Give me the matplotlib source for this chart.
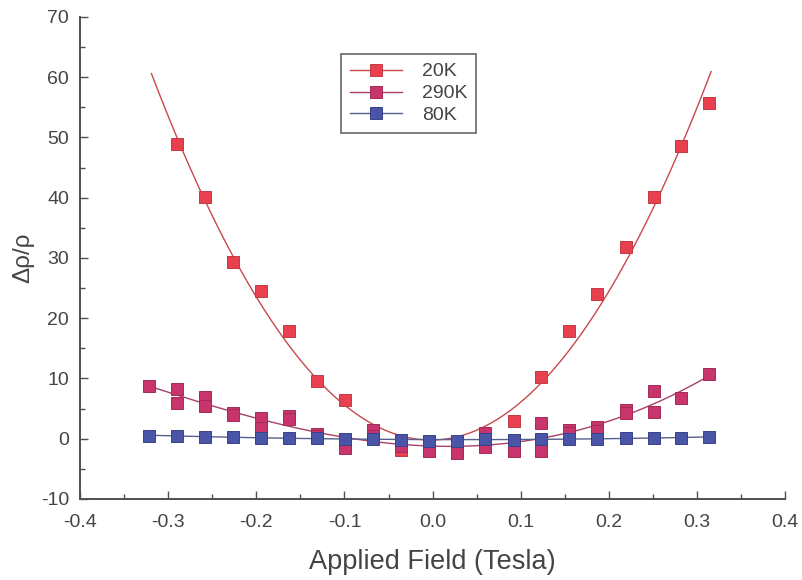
import numpy as np
import matplotlib
matplotlib.use("Agg")
import matplotlib.pyplot as plt
from matplotlib.ticker import MultipleLocator, FormatStrFormatter

plt.rcParams['font.family'] = ['Liberation Sans', 'DejaVu Sans']
plt.rcParams['axes.unicode_minus'] = False

# Applied field values (Tesla) and magnetoresistance for each temperature
field_20K = [-0.290, -0.258, -0.227, -0.195, -0.163, -0.131, -0.099, -0.068, -0.036, -0.004,
             0.028, 0.060, 0.092, 0.123, 0.155, 0.187, 0.219, 0.251, 0.282, 0.314]
mr_20K = [49.0, 40.2, 29.3, 24.6, 17.9, 9.5, 6.4, 1.2, -1.9, -1.4,
          -1.8, 0.8, 3.0, 10.2, 17.8, 24.1, 31.8, 40.1, 48.6, 55.8]

field_290K = [-0.322, -0.290, -0.290, -0.258, -0.258, -0.227, -0.227, -0.195, -0.195,
              -0.163, -0.163, -0.131, -0.131, -0.099, -0.099, -0.068, -0.068, -0.036, -0.036,
              -0.004, -0.004, 0.028, 0.028, 0.060, 0.060, 0.092, 0.092, 0.123, 0.123,
              0.155, 0.155, 0.187, 0.187, 0.219, 0.219, 0.251, 0.251, 0.282, 0.314]
mr_290K = [8.8, 8.3, 6.0, 7.0, 5.4, 4.3, 3.9, 3.4, 1.7,
           3.8, 3.2, 0.8, 0.4, -0.6, -1.6, 1.5, 0.4, -0.6, -1.2,
           -0.6, -2.0, -1.5, -2.3, 0.9, -1.4, -0.5, -2.0, 2.6, -2.1,
           1.4, 0.9, 1.9, 1.3, 4.7, 4.3, 8.0, 4.5, 6.8, 10.7]

field_80K = [-0.322, -0.290, -0.258, -0.227, -0.195, -0.163, -0.131, -0.099, -0.068, -0.036,
             -0.004, 0.028, 0.060, 0.092, 0.123, 0.155, 0.187, 0.219, 0.251, 0.282, 0.314]
mr_80K = [0.5, 0.4, 0.3, 0.3, 0.2, 0.2, 0.2, 0.0, -0.1, -0.2,
          -0.3, -0.3, -0.1, -0.2, -0.1, 0.0, 0.0, 0.1, 0.1, 0.2, 0.3]

# label, x, y, marker face, marker edge, fit-line colour, polynomial degree of fit
series = [
    ("20K", field_20K, mr_20K, "#e8404e", "#c23a44", "#c8484e", 2),
    ("290K", field_290K, mr_290K, "#c8356c", "#a52a58", "#a8406a", 4),
    ("80K", field_80K, mr_80K, "#4b55a8", "#384288", "#56608e", 2),
]

fig = plt.figure(figsize=(8.02, 5.80), dpi=100)
ax = fig.add_axes([0.0998, 0.1397, 0.8792, 0.831])

fit_x = np.linspace(-0.319, 0.316, 300)
for label, fx, fy, face, edge, line_col, deg in series:
    coeffs = np.polyfit(fx, fy, deg)
    ax.plot(fit_x, np.polyval(coeffs, fit_x), color=line_col, lw=1.0, zorder=2)
    ax.plot(fx, fy, ls="none", marker="s", ms=8.5, mfc=face, mec=edge, mew=0.7, zorder=3)
    # legend entry: line with marker
    ax.plot([], [], color=line_col, lw=1.0, marker="s", ms=8.5, mfc=face, mec=edge,
            mew=0.7, label=label)

ax.set_xlim(-0.4, 0.4)
ax.set_ylim(-10, 70)
ax.xaxis.set_major_locator(MultipleLocator(0.1))
ax.xaxis.set_minor_locator(MultipleLocator(0.05))
ax.yaxis.set_major_locator(MultipleLocator(10))
ax.yaxis.set_minor_locator(MultipleLocator(5))
ax.xaxis.set_major_formatter(FormatStrFormatter("%.1f"))

for side in ("top", "right"):
    ax.spines[side].set_visible(False)
for side in ("left", "bottom"):
    ax.spines[side].set_color("#505050")
    ax.spines[side].set_linewidth(1.4)

ax.tick_params(which="both", direction="in", color="#505050", width=1.0,
               labelcolor="#444444", labelsize=14)
ax.tick_params(which="major", length=6)
ax.tick_params(which="minor", length=3.5)
ax.tick_params(axis="x", which="major", pad=10.5)
ax.tick_params(axis="y", which="major", pad=8)

ax.set_xlabel("Applied Field (Tesla)", fontsize=19.5, color="#444444", labelpad=13)
ax.set_ylabel("\u0394\u03c1/\u03c1", fontsize=17.5, color="#444444")
ax.yaxis.set_label_coords(-0.065, 0.5)

leg = ax.legend(loc="upper left", bbox_to_anchor=(0.37, 0.923), frameon=True,
                fancybox=False, edgecolor="#404040", fontsize=14, handlelength=2.7,
                labelspacing=0.22, handletextpad=1.0, borderpad=0.45, borderaxespad=0)
leg.get_frame().set_linewidth(1.2)
for t in leg.get_texts():
    t.set_color("#444444")

fig.savefig("out.png", dpi=100)
